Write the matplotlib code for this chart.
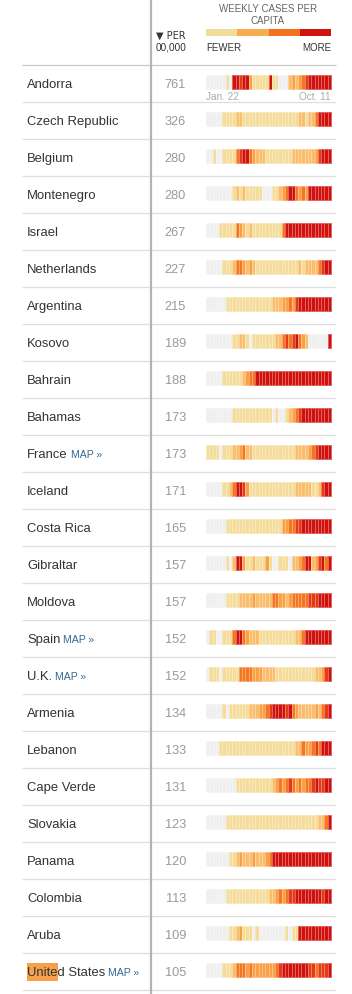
import matplotlib
matplotlib.use("Agg")
import matplotlib.pyplot as plt
import numpy as np
from matplotlib.colors import ListedColormap, BoundaryNorm
from matplotlib.patches import Rectangle

plt.rcParams['font.family'] = ['Liberation Sans', 'DejaVu Sans']

# DATA
countries = ["Andorra", "Czech Republic", "Belgium", "Montenegro", "Israel",
             "Netherlands", "Argentina", "Kosovo", "Bahrain", "Bahamas",
             "France", "Iceland", "Costa Rica", "Gibraltar", "Moldova",
             "Spain", "U.K.", "Armenia", "Lebanon", "Cape Verde",
             "Slovakia", "Panama", "Colombia", "Aruba", "United States"]
per_100k = [761, 326, 280, 280, 267, 227, 215, 189, 188, 173, 173, 171, 165,
            157, 157, 152, 152, 134, 133, 131, 123, 120, 113, 109, 105]
has_map = ["France", "Spain", "U.K.", "United States"]
first_week, last_week = "Jan. 22", "Oct. 11"

# weekly level per country, 0 = no cases ... 6 = most, Jan. 22 -> Oct. 11
weekly_levels = [
    "000000" "10" "66566" "3" "11111" "6" "11" "000" "23234" "56666666",
    "00000" "1111" "22" "11111" "11111" "11111" "11" "22122" "4" "6666",
    "00" "1" "00" "1111" "456643" "222" "11111111" "22222223" "5666",
    "00000000" "1" "2" "1211111" "000" "112" "34" "66" "4343" "6666666",
    "0000" "11111" "43" "212" "11111" "1111" "4" "6666666" "6666666",
    "00000" "111" "2" "443232" "11111" "11111" "111" "212222" "4566",
    "000000" "11111" "11111" "1111" "222" "33435" "66666" "66666",
    "00000000" "11221" "0" "11111112" "245456432" "000000" "6",
    "00000" "111111" "2" "344" "66666" "66666" "66666" "66666" "666",
    "00000000" "11111" "11111" "11" "0" "1" "00" "12" "345" "66666" "6666",
    "1111" "0" "1112" "23422" "11111" "11111" "111" "2222" "34" "56666",
    "00000" "112" "46653" "11111" "11111" "1111" "22222112" "566",
    "000000" "11111" "11111" "11111" "11" "334455" "66666" "6666",
    "000000" "1" "0" "2663" "11211" "13" "1" "00" "111" "0" "2234" "66" "23" "5646",
    "000000" "1111" "2222322222" "4433234444" "45556666",
    "0" "11" "00" "111" "466432" "22" "11111" "11111" "1" "22" "4" "66666666",
    "0" "111" "0" "11111" "44443332" "222" "11111" "11111" "11" "22" "356",
    "00000" "1" "0" "111111" "2223" "34" "5666656" "43" "2222232" "456",
    "0000" "11111" "11111" "11111" "11111" "111" "22" "43345" "4666",
    "000000000" "11111" "11111" "1" "23434" "5" "434344" "565566",
    "000000" "11111" "11111" "11111" "11111" "11111" "111" "2246",
    "0000000" "11" "232223222" "34" "66666" "66666" "66666" "666",
    "000000" "11111" "11111" "111" "22" "3434" "5566666666566",
    "0000000" "11" "23" "111" "0" "1" "00000000" "1011" "66666" "66666",
    "00000" "1112" "4443433333334" "5666666665" "545556",
]

level_colors = ["#efefef", "#f5dc9b", "#f9bd6c", "#f9a046", "#f57621", "#e33c15", "#d0120e"]
legend_colors = ["#f3dc98", "#f9ab4f", "#f5711d", "#d0130f"]

# STYLE / LAYOUT (pixel coordinates)
W, H = 352, 994
row0, row_h = 85, 37
strip_x0, strip_x1 = 206, 331
name_color = "#333333"
num_color = "#999999"
map_color = "#326891"

fig = plt.figure(figsize=(W / 100, H / 100), dpi=100)
ax = fig.add_axes([0, 0, 1, 1])
ax.set_xlim(0, W)
ax.set_ylim(H, 0)
ax.axis("off")

levels = np.array([[int(c) for c in s] for s in weekly_levels])
n_weeks = levels.shape[1]
cmap = ListedColormap(level_colors)
norm = BoundaryNorm(np.arange(-0.5, len(level_colors)), cmap.N)
x_edges = np.linspace(strip_x0, strip_x1, n_weeks + 1)

# header
ax.text(268, 9, "WEEKLY CASES PER", ha="center", va="center", fontsize=7, color="#666666")
ax.text(268, 21, "CAPITA", ha="center", va="center", fontsize=7, color="#666666")
seg = np.linspace(strip_x0, strip_x1, len(legend_colors) + 1)
for i, c in enumerate(legend_colors):
    ax.add_patch(Rectangle((seg[i], 29), seg[i + 1] - seg[i], 6.5, color=c, lw=0))
ax.text(strip_x0, 48, "FEWER", ha="left", va="center", fontsize=7, color="#333333")
ax.text(strip_x1, 48, "MORE", ha="right", va="center", fontsize=7, color="#333333")
ax.text(186, 36, "\u25bc PER", ha="right", va="center", fontsize=7, color="#333333",
        family=['DejaVu Sans'])
ax.text(187, 48, "00,000", ha="right", va="center", fontsize=7.2, color="#333333")

# separators
for k in range(len(countries) + 1):
    y = row0 - 20 + row_h * k
    ax.plot([22, 336], [y, y], color="#c9c9c9" if k == 0 else "#dedede", lw=0.9,
            solid_capstyle="butt")
ax.plot([151, 151], [0, H], color="#b3b3b3", lw=1.6)

for i, (name, val, lev) in enumerate(zip(countries, per_100k, levels)):
    yc = row0 + row_h * i
    if name == "United States":
        ax.add_patch(Rectangle((27, yc - 10), 31, 18, color="#f7a04a", lw=0, zorder=1))
    t = ax.text(27, yc, name, ha="left", va="center", fontsize=9.4, color=name_color, zorder=2)
    if name in has_map:
        ax.annotate("MAP \u00bb", xy=(1, 0.08), xycoords=t, xytext=(3, 0),
                    textcoords="offset pixels", ha="left", va="bottom",
                    fontsize=7.6, color=map_color)
    ax.text(186, yc, str(val), ha="right", va="center", fontsize=9.2, color=num_color)
    ax.pcolormesh(x_edges, [yc - 10, yc + 4], lev[None, :], cmap=cmap, norm=norm,
                  edgecolors=(1, 1, 1, 0.35), linewidth=0.4)

ax.text(strip_x0, row0 + 12, first_week, ha="left", va="center", fontsize=7.2, color="#aaaaaa")
ax.text(strip_x1, row0 + 12, last_week, ha="right", va="center", fontsize=7.2, color="#aaaaaa")

fig.savefig("out.png", dpi=100)
